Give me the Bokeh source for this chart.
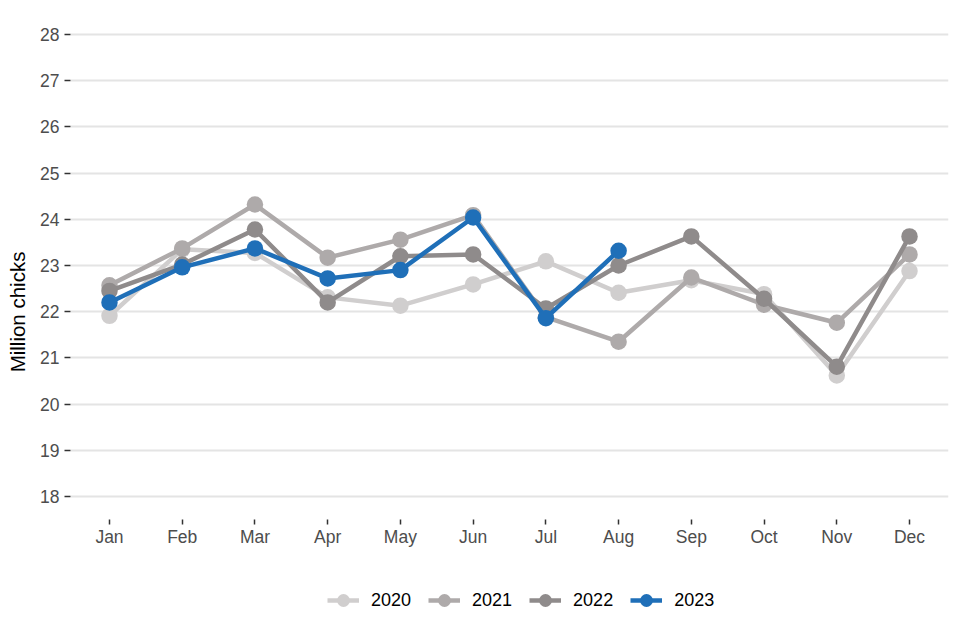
from bokeh.plotting import figure
from bokeh.models import Range1d, FixedTicker, Legend, LegendItem
from bokeh.embed import file_html
from bokeh.resources import INLINE

months = ["Jan", "Feb", "Mar", "Apr", "May", "Jun", "Jul", "Aug", "Sep", "Oct", "Nov", "Dec"]
y_ticks = [18, 19, 20, 21, 22, 23, 24, 25, 26, 27, 28]

v2020 = [21.91, 23.35, 23.27, 22.31, 22.13, 22.59, 23.09, 22.41, 22.68, 22.38, 20.62, 22.88]
v2021 = [22.57, 23.37, 24.32, 23.17, 23.56, 24.09, 21.88, 21.35, 22.74, 22.15, 21.76, 23.24]
v2022 = [22.45, 23.02, 23.78, 22.20, 23.20, 23.24, 22.07, 23.00, 23.63, 22.28, 20.81, 23.63]
v2023 = [22.20, 22.96, 23.37, 22.72, 22.90, 24.04, 21.86, 23.32]

years = ["2020", "2021", "2022", "2023"]
series = [v2020, v2021, v2022, v2023]
colors = ["#d0cece", "#aeaaaa", "#8f8b8b", "#1f6fb8"]

FONT = "Liberation Sans"

# panel: 17.5..28.5 over 508 px; frame extended downward to hold the legend
PX_PER_UNIT = 508 / 11
FRAME_H = 601
y_top = 28.5
y_bottom = y_top - FRAME_H / PX_PER_UNIT
x_axis_at = 17.5

p = figure(frame_width=878, frame_height=FRAME_H, output_backend="svg", toolbar_location=None,
           x_range=Range1d(1 - 0.536, 12 + 0.536), y_range=Range1d(y_bottom, y_top),
           min_border_left=70, min_border_right=12, min_border_top=11, min_border_bottom=0)
p.outline_line_color = None
p.background_fill_color = "white"
p.border_fill_color = "white"

items = []
for yr, vals, c in zip(years, series, colors):
    xs = list(range(1, len(vals) + 1))
    ln = p.line(xs, vals, line_color=c, line_width=4.5)
    sc = p.scatter(xs, vals, size=16.5, fill_color=c, line_color=c, line_width=0)
    items.append(LegendItem(label=yr, renderers=[ln, sc]))

# axes
p.xaxis.ticker = FixedTicker(ticks=list(range(1, len(months) + 1)))
p.xaxis.major_label_overrides = {i + 1: m for i, m in enumerate(months)}
p.xaxis.fixed_location = x_axis_at
p.yaxis.ticker = FixedTicker(ticks=y_ticks)
p.yaxis.bounds = (17.2, 28.5)
for ax in (p.xaxis[0], p.yaxis[0]):
    ax.axis_line_color = None
    ax.minor_tick_line_color = None
    ax.major_tick_in = 0
    ax.major_tick_line_color = "#333333"
    ax.major_tick_line_width = 1.5
    ax.major_label_text_font = FONT
    ax.major_label_text_font_size = "17.5px"
    ax.major_label_text_color = "#4d4d4d"
p.xaxis.major_tick_out = 5
p.xaxis.major_label_standoff = 2
p.yaxis.major_tick_out = 6
p.yaxis.major_label_standoff = 5
p.yaxis.axis_label = "Million chicks"
p.yaxis.axis_label_text_font = FONT
p.yaxis.axis_label_text_font_size = "20.5px"
p.yaxis.axis_label_text_font_style = "normal"
p.yaxis.axis_label_text_color = "#000000"
p.yaxis.axis_label_standoff = 8

p.xgrid.grid_line_color = None
p.ygrid.ticker = FixedTicker(ticks=y_ticks)
p.ygrid.grid_line_color = "#e4e4e4"
p.ygrid.grid_line_width = 1.8

legend = Legend(items=items, orientation="horizontal", location=(257, -5),
                glyph_width=32, glyph_height=34, label_standoff=12, spacing=17,
                padding=0, margin=0, border_line_color=None, background_fill_alpha=0,
                label_text_font=FONT, label_text_font_size="18px", label_text_color="#000000")
p.add_layout(legend, "center")

open("out.html", "w").write(file_html(p, INLINE))
